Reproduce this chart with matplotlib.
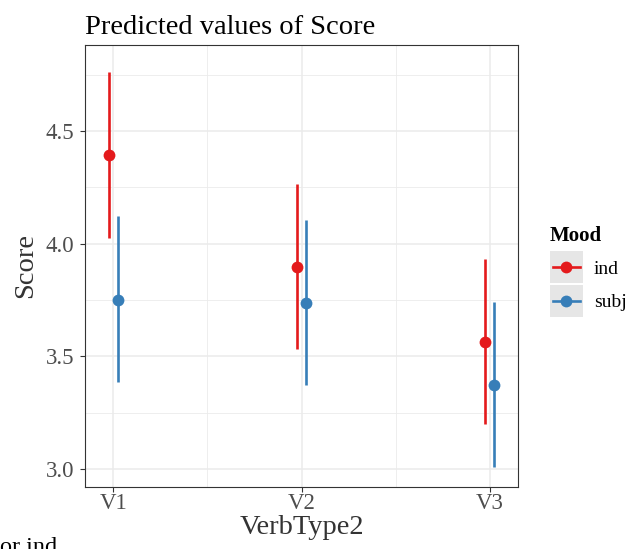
import matplotlib
matplotlib.use("Agg")
import matplotlib.pyplot as plt
from matplotlib.lines import Line2D
from matplotlib.patches import Rectangle
from matplotlib.legend_handler import HandlerBase
import numpy as np

categories = ["V1", "V2", "V3"]
moods = ["ind", "subj"]
pred = {"ind": [4.392, 3.896, 3.564], "subj": [3.751, 3.736, 3.373]}
lower = {"ind": [4.025, 3.533, 3.199], "subj": [3.384, 3.373, 3.008]}
upper = {"ind": [4.761, 4.267, 3.933], "subj": [4.121, 4.107, 3.741]}
colors = {"ind": "#E41A1C", "subj": "#377EB8"}
yticks = [3.0, 3.5, 4.0, 4.5]

plt.rcParams["font.family"] = ["Liberation Serif", "DejaVu Serif"]

fig = plt.figure(figsize=(6.29, 5.49), dpi=100)
ax = fig.add_axes([85/629, 1-487/549, (518-85)/629, (487-45)/549])

x = np.arange(1, len(categories)+1)
offsets = {"ind": -0.025, "subj": 0.025}
for m in moods:
    xx = x + offsets[m]
    ax.vlines(xx, lower[m], upper[m], color=colors[m], lw=1.9, zorder=3)
    ax.plot(xx, pred[m], "o", color=colors[m], ms=8.5, zorder=4, mec="none")

ax.set_xlim(0.85, 3.15)
ax.set_ylim(2.92, 4.882)
ax.set_xticks(x)
ax.set_xticklabels(categories)
ax.set_yticks(yticks)
ax.set_yticklabels([f"{v:.1f}" for v in yticks])
ax.set_xticks([1.5, 2.5], minor=True)
ax.set_yticks([3.25, 3.75, 4.25, 4.75], minor=True)
ax.grid(which="major", color="#EBEBEB", lw=1.1, zorder=0)
ax.grid(which="minor", color="#EBEBEB", lw=0.6, zorder=0)
ax.set_axisbelow(True)
ax.tick_params(which="minor", length=0)
ax.tick_params(which="major", length=3.8, width=0.8, color="#333333",
               labelsize=16.5, labelcolor="#4D4D4D")
ax.tick_params(axis="y", pad=4)
ax.tick_params(axis="x", pad=0.5)
for s in ax.spines.values():
    s.set_color("#333333")
    s.set_linewidth(0.8)

ax.set_xlabel("VerbType2", fontsize=20.5, color="#333333", labelpad=1)
ax.set_ylabel("Score", fontsize=20.5, color="#333333", labelpad=5)
ax.set_title("Predicted values of Score", fontsize=20.5, loc="left", pad=8, color="black")


class KeyHandler(HandlerBase):
    def __init__(self, color):
        super().__init__()
        self.color = color

    def create_artists(self, legend, orig_handle, xdescent, ydescent, width, height, fontsize, trans):
        bg = Rectangle((-xdescent, -ydescent), width, height, facecolor="#E6E6E6",
                       edgecolor="none", transform=trans)
        yc = -ydescent + height / 2
        ln = Line2D([-xdescent + width * 0.1, -xdescent + width * 0.9], [yc, yc],
                    color=self.color, lw=1.9, transform=trans)
        pt = Line2D([-xdescent + width / 2], [yc], marker="o", ms=8.5, color=self.color,
                    mec="none", transform=trans)
        return [bg, ln, pt]


handles = [Line2D([0], [0], color=colors[m]) for m in moods]
hmap = {h: KeyHandler(colors[m]) for h, m in zip(handles, moods)}
leg = fig.legend(handles, moods, handler_map=hmap, loc="upper left",
                 bbox_to_anchor=(546/629, 1-222/549),
                 title="Mood", frameon=False, fontsize=14, title_fontsize=15,
                 handlelength=1.7, handleheight=2.15, handletextpad=0.55,
                 labelspacing=0.1, borderpad=0.2, borderaxespad=0)
leg.get_title().set_fontweight("bold")
leg._legend_box.align = "left"
leg._legend_box.sep = 4

fig.text(0.0, 1-553/549, "or ind", fontsize=17.5, color="black", ha="left", va="baseline")

fig.savefig("out.png", dpi=100)
